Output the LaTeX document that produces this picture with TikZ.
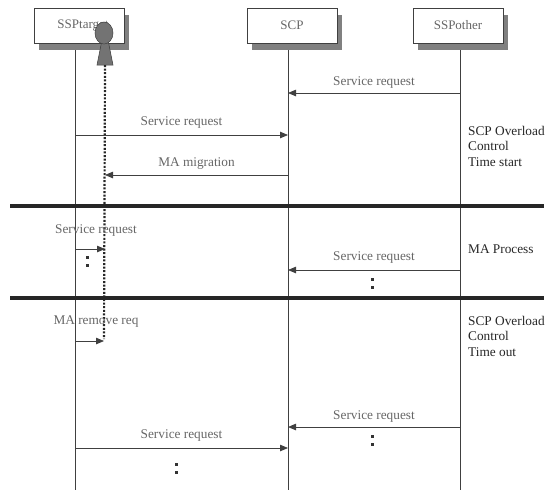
\documentclass[tikz,border=0pt]{standalone}
\usepackage{fontspec}
\setmainfont{Liberation Serif}
\usetikzlibrary{arrows.meta,shadows,shapes.geometric}
\definecolor{lineg}{gray}{0.25}
\definecolor{textg}{gray}{0.4}
\definecolor{shadg}{gray}{0.5}
\begin{document}
\begin{tikzpicture}[x=1pt,y=-1pt,
  entity/.style={draw=lineg, line width=0.7pt, fill=white, minimum width=90pt, minimum height=35pt, inner sep=0pt,
    text=textg, font=\fontsize{13}{15}\selectfont,
    drop shadow={shadow xshift=5pt, shadow yshift=-7pt, fill=shadg, opacity=1}},
  life/.style={draw=lineg, line width=0.8pt},
  msg/.style={draw=lineg, line width=0.8pt, -{Triangle[length=8pt,width=6.5pt]}},
  lbl/.style={text=textg, font=\fontsize{13.3}{15}\selectfont, inner sep=0pt},
  note/.style={text=black!85, font=\fontsize{13.3}{15.5}\selectfont, inner sep=0pt, align=left, anchor=north west},
  sep/.style={draw=black!85, line width=3.2pt},
  dots/.style={fill=black!80},
  agentpath/.style={draw=black!85, line width=2.2pt, dash pattern=on 2pt off 1.6pt}
]
\useasboundingbox (0,0) rectangle (553,499);
% lifeline coordinates
\coordinate (tTop) at (75,43);   \coordinate (tBot) at (75,490);
\coordinate (sTop) at (288,43);  \coordinate (sBot) at (288,490);
\coordinate (oTop) at (460,43);  \coordinate (oBot) at (460,490);
\coordinate (aTop) at (105,65);  \coordinate (aBot) at (104,339);
\draw[life] (tTop) -- (tBot);
\draw[life] (sTop) -- (sBot);
\draw[life] (oTop) -- (oBot);
% entities
\node[entity] (tgt) at (79,25.5) {\hspace*{4pt}SSPtarget\hspace*{-4pt}};
\node[entity] (scp) at (292,25.5) {SCP};
\node[entity] (oth) at (458,25.5) {SSPother};
% agent figure
\fill[black!55, draw=black!75, line width=0.5pt] (102,40) -- (108,40) -- (113,65) -- (97,65) -- cycle;
\node[ellipse, fill=black!55, draw=black!75, line width=0.5pt, minimum width=18pt, minimum height=22pt, inner sep=0pt] (agent) at (104,33) {};
\draw[agentpath] (aTop) -- (aBot);
% separators
\coordinate (s1a) at (10,206); \coordinate (s1b) at (544,206);
\coordinate (s2a) at (10,298); \coordinate (s2b) at (544,298);
\draw[sep] (s1a) -- (s1b);
\draw[sep] (s2a) -- (s2b);
% messages
\coordinate (m1a) at (460,93);  \coordinate (m1b) at (288,93);
\draw[msg] (m1a) -- (m1b) node[lbl, midway, above=4pt] {Service request};
\coordinate (m2a) at (75,135);  \coordinate (m2b) at (288,135);
\draw[msg] (m2a) -- (m2b) node[lbl, midway, above=6pt] {Service request};
\coordinate (m3a) at (288,175); \coordinate (m3b) at (105,175);
\draw[msg] (m3a) -- (m3b) node[lbl, midway, above=5pt] {MA migration};
\coordinate (m4a) at (75,249);  \coordinate (m4b) at (105,249);
\draw[msg] (m4a) -- (m4b);
\node[lbl] (m4l) at (96,231) {Service request};
\coordinate (m5a) at (460,270); \coordinate (m5b) at (288,270);
\draw[msg] (m5a) -- (m5b) node[lbl, midway, above=6pt] {Service request};
\coordinate (m6a) at (75,341);  \coordinate (m6b) at (104,341);
\draw[msg] (m6a) -- (m6b);
\node[lbl] (m6l) at (96,322) {MA remove req};
\coordinate (m7a) at (460,427); \coordinate (m7b) at (288,427);
\draw[msg] (m7a) -- (m7b) node[lbl, midway, above=4pt] {Service request};
\coordinate (m8a) at (75,448);  \coordinate (m8b) at (288,448);
\draw[msg] (m8a) -- (m8b) node[lbl, midway, above=6pt] {Service request};
% continuation dots
\foreach \x/\y in {87/257, 87/265, 372/279, 372/287, 372/436, 372/444, 176/464, 176/472}
  \fill[dots] (\x-1.5,\y-1.5) rectangle (\x+1.5,\y+1.5);
% notes
\node[note] (n1) at (468,126) {SCP Overload\\Control\\Time start};
\node[note] (n2) at (468,245) {MA Process};
\node[note] (n3) at (468,316) {SCP Overload\\Control\\Time out};
\end{tikzpicture}
\end{document}
